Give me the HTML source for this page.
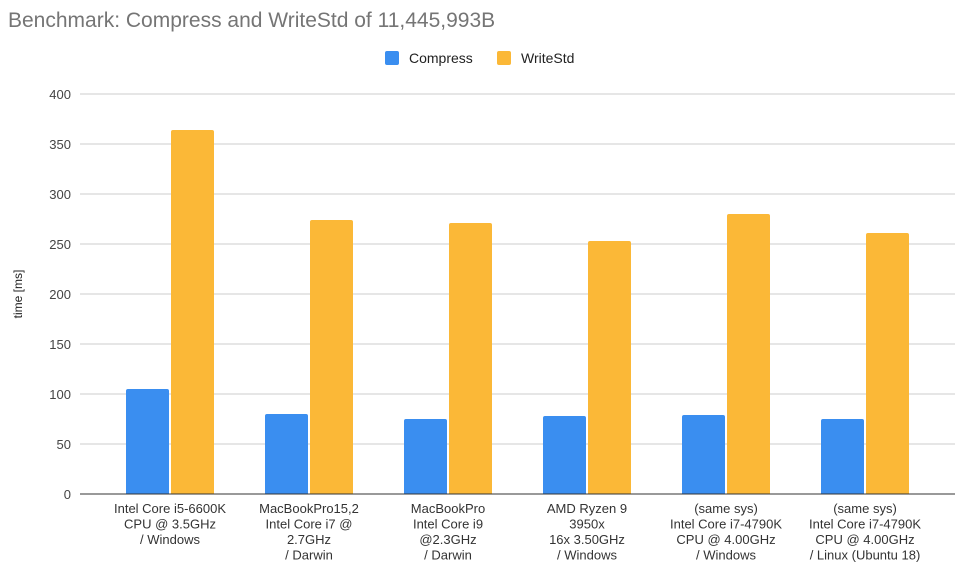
<!DOCTYPE html>
<html><head><meta charset="utf-8"><style>
body{margin:0;background:#fff;width:964px;height:567px;overflow:hidden;font-family:"Liberation Sans",Arial,sans-serif}
</style></head><body>
<svg id="chart" width="964" height="567" font-family="Liberation Sans, Arial, sans-serif">
<text x="8" y="27" font-size="21" fill="#757575">Benchmark: Compress and WriteStd of 11,445,993B</text>
<g>
<rect x="385" y="51" width="14" height="14" rx="2" fill="#3a8ef0"/>
<text x="409" y="63" font-size="14" fill="#222">Compress</text>
<rect x="497" y="51" width="14" height="14" rx="2" fill="#fbb837"/>
<text x="521" y="63" font-size="14" fill="#222">WriteStd</text>
</g>
<text transform="translate(22,294) rotate(-90)" text-anchor="middle" font-size="12" fill="#222">time [ms]</text>
<g id="grid"></g><g id="bars"></g><g id="labels"></g>
</svg>
<script>
const categories=[["Intel Core i5-6600K","CPU @ 3.5GHz","/ Windows"],["MacBookPro15,2","Intel Core i7 @","2.7GHz","/ Darwin"],["MacBookPro","Intel Core i9","@2.3GHz","/ Darwin"],["AMD Ryzen 9","3950x","16x 3.50GHz","/ Windows"],["(same sys)","Intel Core i7-4790K","CPU @ 4.00GHz","/ Windows"],["(same sys)","Intel Core i7-4790K","CPU @ 4.00GHz","/ Linux (Ubuntu 18)"]];
const compress=[105,80,75,78,79,75];
const writeStd=[364,274,271,253,280,261];
const yTicks=[0,50,100,150,200,250,300,350,400];
const NS="http://www.w3.org/2000/svg";
const y0=494,yTop=94,yMax=400;
const y=v=>y0-(v/yMax)*(y0-yTop);
const bandL=100.5,band=139;
const xc=i=>bandL+band*(i+0.5);
function mk(t,a,p){const e=document.createElementNS(NS,t);for(const k in a)e.setAttribute(k,a[k]);p.appendChild(e);return e;}
const grid=document.getElementById('grid'),bars=document.getElementById('bars'),labels=document.getElementById('labels');
yTicks.forEach(t=>{
 if(t>0){const l=mk('line',{x1:80,x2:955,y1:y(t),y2:y(t),stroke:'#ccc','stroke-width':1},grid);
 
 }
 const tx=mk('text',{x:71,y:y(t)+5,'text-anchor':'end','font-size':13,fill:'#444'},grid);
 tx.textContent=t;
 
 
});
const series=[[compress,'#3a8ef0','compress'],[writeStd,'#fbb837','writestd']];
categories.forEach((c,i)=>{
 series.forEach(([vals,col,nm],s)=>{
  const x=s===0?xc(i)-44:xc(i)+1;
  const r=mk('path',{d:`M${x},${y0} V${y(vals[i])+2} q0,-2 2,-2 h39 q2,0 2,2 V${y0} Z`,fill:col},bars);
  
  
 });
 const t=mk('text',{'text-anchor':'middle','font-size':13,fill:'#333'},labels);
 
 
 c.forEach((ln,j)=>{const s=mk('tspan',{x:xc(i),y:513+j*15.5},t);s.textContent=ln;});
});
const ax=mk('line',{x1:80,x2:955,y1:y0,y2:y0,stroke:'#333','stroke-width':1},grid);


document.getElementById('chart').appendChild(grid.lastChild);
</script>
</body></html>
